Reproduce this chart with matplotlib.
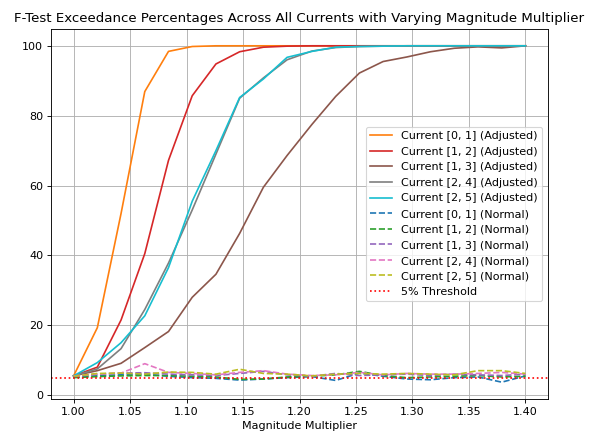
import numpy as np
import matplotlib
matplotlib.use("Agg")
import matplotlib.pyplot as plt

# Magnitude multipliers (20 steps from 1.0 to 1.4)
multipliers = [1.000, 1.021, 1.042, 1.063, 1.084, 1.105, 1.126, 1.147, 1.168, 1.189,
               1.211, 1.232, 1.253, 1.274, 1.295, 1.316, 1.337, 1.358, 1.379, 1.400]

labels = ["[0, 1]", "[1, 2]", "[1, 3]", "[2, 4]", "[2, 5]"]

# Exceedance percentages, adjusted test
adj_01 = [5.5, 19.3, 52.0, 86.9, 98.4, 99.8, 100, 100, 100, 100,
          100, 100, 100, 100, 100, 100, 100, 100, 100, 100]
adj_12 = [5.5, 8.0, 21.5, 40.5, 67.2, 85.7, 94.8, 98.3, 99.6, 99.9,
          100, 100, 100, 100, 100, 100, 100, 100, 100, 100]
adj_13 = [5.5, 7.0, 9.1, 13.6, 18.2, 28.0, 34.6, 46.3, 59.5, 68.6,
          77.5, 85.5, 92.2, 95.5, 96.8, 98.3, 99.3, 99.7, 99.4, 100]
adj_24 = [5.5, 7.5, 13.3, 24.5, 37.8, 53.0, 69.0, 85.0, 90.8, 96.0,
          98.5, 99.5, 99.8, 99.9, 100, 100, 100, 100, 100, 100]
adj_25 = [5.5, 9.3, 15.0, 22.7, 36.5, 55.5, 70.0, 85.2, 90.5, 96.7,
          98.4, 99.6, 99.8, 99.9, 100, 100, 100, 100, 100, 100]

# Exceedance percentages, normal test
nor_01 = [5.2, 5.6, 5.8, 6.0, 5.4, 5.0, 4.8, 4.3, 4.6, 5.0,
          5.3, 4.2, 6.3, 5.4, 4.6, 4.4, 5.0, 5.2, 3.7, 5.5]
nor_12 = [5.0, 5.3, 5.5, 5.6, 5.6, 5.4, 5.2, 4.5, 4.6, 5.2,
          5.4, 5.8, 6.8, 5.6, 5.0, 5.2, 5.4, 5.6, 5.2, 5.4]
nor_13 = [5.3, 6.0, 6.3, 6.4, 6.0, 5.8, 5.6, 6.2, 6.8, 5.8,
          5.4, 6.2, 5.6, 5.8, 6.0, 5.6, 6.0, 5.8, 5.6, 6.0]
nor_24 = [5.5, 6.0, 6.3, 9.0, 6.5, 6.2, 5.8, 6.5, 7.0, 6.0,
          5.6, 5.8, 6.5, 5.8, 6.2, 6.0, 6.0, 6.2, 6.5, 6.0]
nor_25 = [5.4, 6.2, 6.3, 6.0, 6.6, 6.5, 6.0, 7.4, 6.2, 6.0,
          5.5, 6.0, 6.2, 6.0, 6.2, 6.0, 5.8, 7.0, 7.0, 6.2]

adjusted = [adj_01, adj_12, adj_13, adj_24, adj_25]
normal = [nor_01, nor_12, nor_13, nor_24, nor_25]
adj_colors = ["tab:orange", "tab:red", "tab:brown", "tab:gray", "tab:cyan"]
nor_colors = ["tab:blue", "tab:green", "tab:purple", "tab:pink", "tab:olive"]

fig = plt.figure(figsize=(7.425, 5.4), dpi=80)
ax = fig.add_axes([0.0859, 0.0764, 0.8367, 0.8565])

for lab, vals, c in zip(labels, adjusted, adj_colors):
    ax.plot(multipliers, vals, color=c, label=f"Current {lab} (Adjusted)")
for lab, vals, c in zip(labels, normal, nor_colors):
    ax.plot(multipliers, vals, color=c, linestyle="--", label=f"Current {lab} (Normal)")

ax.axhline(5, color="red", linestyle=":", label="5% Threshold")

ax.set_xticks(np.arange(1.0, 1.41, 0.05))
ax.set_xlabel("Magnitude Multiplier")
ax.set_title("F-Test Exceedance Percentages Across All Currents with Varying Magnitude Multiplier")
ax.grid(True)
ax.legend(loc="center right")

fig.savefig("out.png", dpi=80)
